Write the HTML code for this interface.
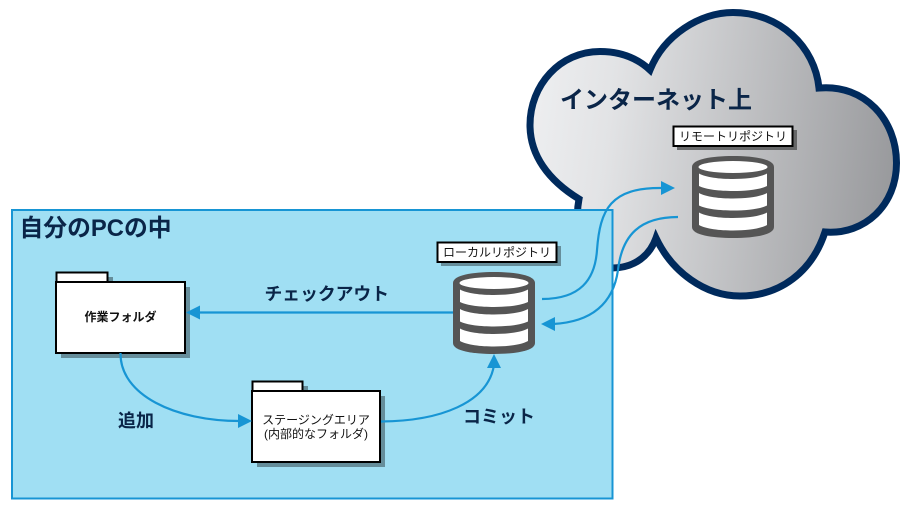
<!DOCTYPE html>
<html><head><meta charset="utf-8">
<style>
html,body{margin:0;padding:0;background:#fff;width:909px;height:506px;overflow:hidden}
svg{display:block}
text{font-family:"Liberation Sans","Noto Sans CJK JP",sans-serif}
</style></head><body>
<svg width="909" height="506" viewBox="0 0 909 506" xmlns="http://www.w3.org/2000/svg">
<defs>
<linearGradient id="g" gradientUnits="userSpaceOnUse" x1="535" y1="140" x2="895" y2="185">
<stop offset="0" stop-color="#ecedef"/><stop offset="0.2" stop-color="#e2e3e5"/><stop offset="1" stop-color="#98999c"/>
</linearGradient>
<g id="db">
<path d="M0 11C0 3 20 0 41 0C62 0 82 3 82 11V71C82 79 62 82 41 82C20 82 0 79 0 71Z" fill="#555"/>
<ellipse cx="41" cy="11" rx="34.500" ry="6" fill="#fff"/>
<path d="M7 17.500C14 21.500 28 23 41 23C54 23 68 21.500 75 17.500V30C68 33.500 54 35 41 35C28 35 14 33.500 7 30Z" fill="#fff"/>
<path d="M7 37C14 41 28 42.500 41 42.500C54 42.500 68 41 75 37V49.500C68 53 54 54.500 41 54.500C28 54.500 14 53 7 49.500Z" fill="#fff"/>
<path d="M7 56.500C14 60.500 28 62 41 62C54 62 68 60.500 75 56.500V69C68 73 54 74.500 41 74.500C28 74.500 14 73 7 69Z" fill="#fff"/>
</g>
</defs>

<path d="M650 70C664 35 700 12.500 733 12.500C780 12.500 815 47 819 88C865 84 896.500 120 896.500 163C896.500 205 865 235 825 232C812 272 780 296 740 296C705 296 672 272 656 238C650 255 635 268 612 268C590 268 572 235 579 199C548 180 530 155 530 125C530 85 560 51.500 600 51.500C620 51.500 637 58 650 70Z" fill="url(#g)" stroke="#002a5c" stroke-width="7"/>

<rect x="12" y="210" width="600.500" height="288.500" fill="#a0dff3" stroke="#1795d4" stroke-width="2"/>

<text x="560" y="108" font-size="24" font-weight="700" fill="#0a2548">インターネット上</text>
<text x="19.500" y="236" font-size="23.800" font-weight="700" fill="#0a2548">自分のPCの中</text>

<!-- folders -->
<g fill="#000" opacity="0.36">
<rect x="61" y="277" width="52" height="10"/><rect x="61" y="287" width="129" height="71"/>
<rect x="257" y="386" width="51" height="10"/><rect x="257" y="396" width="128" height="71"/>
<rect x="441" y="246" width="120" height="20"/>
</g>
<rect x="677" y="130" width="120" height="20" fill="#58595b" opacity="0.85"/>
<g fill="#fff" stroke="#000" stroke-width="2">
<rect x="56.500" y="272.500" width="51" height="9.500"/>
<rect x="56" y="282" width="129" height="71"/>
<rect x="252.500" y="381.500" width="50" height="9.500"/>
<rect x="252" y="391" width="128" height="71"/>
<rect x="437.500" y="242.500" width="119" height="19.500"/>
<rect x="673.500" y="126.500" width="119" height="19.500"/>
</g>
<text x="120.500" y="321" font-size="12" font-weight="700" text-anchor="middle" fill="#111">作業フォルダ</text>
<text x="316" y="424" font-size="12" text-anchor="middle" fill="#111">ステージングエリア</text>
<text x="316" y="438" font-size="12" text-anchor="middle" fill="#111">(内部的なフォルダ)</text>
<text x="497" y="256.500" font-size="12" text-anchor="middle" fill="#111">ローカルリポジトリ</text>
<text x="733" y="140.500" font-size="12" text-anchor="middle" fill="#111">リモートリポジトリ</text>

<use href="#db" x="453" y="272"/>
<use href="#db" x="692" y="156"/>

<!-- connectors -->
<g fill="none" stroke="#1795d4" stroke-width="2.200">
<path d="M453 312.500H198"/>
<path d="M120.500 353C120 395 175 421 240 421"/>
<path d="M381 421.500C440 421 488 403 494 365"/>
<path d="M542 299C580 299 595 280 597 250C600 210 610 187 663 188"/>
<path d="M678 217C640 217 622 235 618 270C613 305 590 322 553 324"/>
</g>
<g fill="#1795d4">
<path d="M186 312.500L200 305.500V319.500Z"/>
<path d="M252 421L238 414V428Z"/>
<path d="M494 354L487 368H501Z"/>
<path d="M675 188L661 181V195Z"/>
<path d="M541 324L555 317V331Z"/>
</g>

<text x="264.500" y="300" font-size="17.800" font-weight="700" fill="#0a2548">チェックアウト</text>
<text x="118" y="427" font-size="18" font-weight="700" fill="#0a2548">追加</text>
<text x="463" y="423" font-size="18" font-weight="700" fill="#0a2548">コミット</text>
</svg>
</body></html>
